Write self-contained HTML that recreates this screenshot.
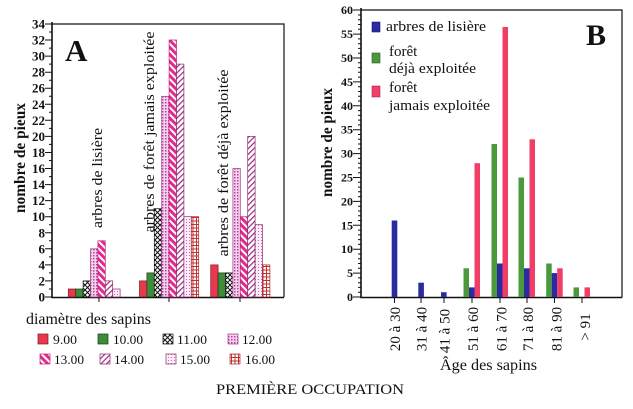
<!DOCTYPE html>
<html><head><meta charset="utf-8"><style>
html,body{margin:0;padding:0;background:#fff;}
svg{display:block;}
text{font-family:"Liberation Serif",serif;fill:#111;}
</style></head><body>
<svg width="633" height="409" viewBox="0 0 633 409" xmlns="http://www.w3.org/2000/svg">
<defs>
<pattern id="p11" width="5" height="5" patternUnits="userSpaceOnUse"><rect width="5" height="5" fill="#fff"/><path d="M0,0L5,5M5,0L0,5" stroke="#111" stroke-width="1"/></pattern>
<pattern id="p12" width="3" height="3" patternUnits="userSpaceOnUse"><rect width="3" height="3" fill="#f3d2ec"/><rect width="1.5" height="1.5" fill="#b8409f"/></pattern>
<pattern id="p13" width="5" height="5" patternUnits="userSpaceOnUse" patternTransform="rotate(-45)"><rect width="5" height="5" fill="#fff"/><rect width="3" height="5" fill="#e22a8e"/></pattern>
<pattern id="p14" width="4" height="4" patternUnits="userSpaceOnUse" patternTransform="rotate(45)"><rect width="4" height="4" fill="#fff"/><rect width="1.2" height="4" fill="#9c2a7c"/></pattern>
<pattern id="p15" width="3" height="3" patternUnits="userSpaceOnUse"><rect width="3" height="3" fill="#fbeef8"/><rect width="1" height="1" fill="#cf62b4"/></pattern>
<pattern id="p16" width="3.5" height="3.5" patternUnits="userSpaceOnUse"><rect width="3.5" height="3.5" fill="#fff"/><path d="M0,0.5H3.5M0.5,0V3.5" stroke="#c4302c" stroke-width="1"/></pattern>
</defs>

<!-- ============ CHART A ============ -->
<g>
<!-- frame -->
<path d="M52,24H284V297" fill="none" stroke="#111" stroke-width="1.2"/>
<path d="M52,22V297.5H284" fill="none" stroke="#111" stroke-width="1.6"/>
<!-- y ticks -->
<g stroke="#111" stroke-width="1">
<path d="M45,297H52M45,280.9H52M45,264.9H52M45,248.8H52M45,232.8H52M45,216.7H52M45,200.6H52M45,184.6H52M45,168.5H52M45,152.5H52M45,136.4H52M45,120.3H52M45,104.3H52M45,88.2H52M45,72.2H52M45,56.1H52M45,40H52M45,24H52"/>
<path d="M49,289H52M49,272.9H52M49,256.9H52M49,240.8H52M49,224.7H52M49,208.7H52M49,192.6H52M49,176.6H52M49,160.5H52M49,144.4H52M49,128.4H52M49,112.3H52M49,96.3H52M49,80.2H52M49,64.1H52M49,48.1H52M49,32H52"/>
<path d="M99,297V302M169,297V302M240,297V302"/>
</g>
<g font-size="13" font-weight="bold" text-anchor="end">
<text x="45" y="301.5">0</text><text x="45" y="285.4">2</text><text x="45" y="269.4">4</text><text x="45" y="253.3">6</text><text x="45" y="237.3">8</text><text x="45" y="221.2">10</text><text x="45" y="205.1">12</text><text x="45" y="189.1">14</text><text x="45" y="173">16</text><text x="45" y="157">18</text><text x="45" y="140.9">20</text><text x="45" y="124.8">22</text><text x="45" y="108.8">24</text><text x="45" y="92.7">26</text><text x="45" y="76.7">28</text><text x="45" y="60.6">30</text><text x="45" y="44.5">32</text><text x="45" y="28.5">34</text>
</g>
<text x="65" y="61" font-size="31" font-weight="bold">A</text>
<text transform="translate(25,158) rotate(-90)" font-size="16" font-weight="bold" text-anchor="middle" textLength="110" lengthAdjust="spacingAndGlyphs">nombre de pieux</text>

<text transform="translate(102,178) rotate(-90)" font-size="15" text-anchor="middle" textLength="100" lengthAdjust="spacingAndGlyphs">arbres de lisière</text>
<text transform="translate(154,132) rotate(-90)" font-size="15" text-anchor="middle" textLength="201" lengthAdjust="spacingAndGlyphs">arbres de forêt jamais exploitée</text>
<text transform="translate(228,163) rotate(-90)" font-size="15" text-anchor="middle" textLength="187" lengthAdjust="spacingAndGlyphs">arbres de forêt déjà exploitée</text>

<!-- group 1 -->
<g stroke-width="0.7">
<rect x="68.3" y="289" width="7.4" height="8" fill="#e8384e" stroke="#7a1a22"/>
<rect x="75.7" y="289" width="7.4" height="8" fill="#3c8c3a" stroke="#1a3a1a"/>
<rect x="83.1" y="280.9" width="7.4" height="16.1" fill="url(#p11)" stroke="#111"/>
<rect x="90.5" y="248.8" width="7.4" height="48.2" fill="url(#p12)" stroke="#a03a8c"/>
<rect x="97.9" y="240.8" width="7.4" height="56.2" fill="url(#p13)" stroke="#c0207a"/>
<rect x="105.3" y="280.9" width="7.4" height="16.1" fill="url(#p14)" stroke="#8a2a70"/>
<rect x="112.7" y="289" width="7.4" height="8" fill="url(#p15)" stroke="#8a2a70"/>
</g>
<!-- group 2 -->
<g stroke-width="0.7">
<rect x="139.5" y="280.9" width="7.4" height="16.1" fill="#e8384e" stroke="#7a1a22"/>
<rect x="146.9" y="272.9" width="7.4" height="24.1" fill="#3c8c3a" stroke="#1a3a1a"/>
<rect x="154.3" y="208.7" width="7.4" height="88.3" fill="url(#p11)" stroke="#111"/>
<rect x="161.7" y="96.3" width="7.4" height="200.7" fill="url(#p12)" stroke="#a03a8c"/>
<rect x="169.1" y="40" width="7.4" height="257" fill="url(#p13)" stroke="#c0207a"/>
<rect x="176.5" y="64.1" width="7.4" height="232.9" fill="url(#p14)" stroke="#8a2a70"/>
<rect x="183.9" y="216.7" width="7.4" height="80.3" fill="url(#p15)" stroke="#8a2a70"/>
<rect x="191.3" y="216.7" width="7.4" height="80.3" fill="url(#p16)" stroke="#a02828"/>
</g>
<!-- group 3 -->
<g stroke-width="0.7">
<rect x="210.7" y="264.9" width="7.4" height="32.1" fill="#e8384e" stroke="#7a1a22"/>
<rect x="218.1" y="272.9" width="7.4" height="24.1" fill="#3c8c3a" stroke="#1a3a1a"/>
<rect x="225.5" y="272.9" width="7.4" height="24.1" fill="url(#p11)" stroke="#111"/>
<rect x="232.9" y="168.5" width="7.4" height="128.5" fill="url(#p12)" stroke="#a03a8c"/>
<rect x="240.3" y="216.7" width="7.4" height="80.3" fill="url(#p13)" stroke="#c0207a"/>
<rect x="247.7" y="136.4" width="7.4" height="160.6" fill="url(#p14)" stroke="#8a2a70"/>
<rect x="255.1" y="224.7" width="7.4" height="72.3" fill="url(#p15)" stroke="#8a2a70"/>
<rect x="262.5" y="264.9" width="7.4" height="32.1" fill="url(#p16)" stroke="#a02828"/>
</g>

<!-- legend A -->
<text x="26" y="324" font-size="16" textLength="125" lengthAdjust="spacingAndGlyphs">diamètre des sapins</text>
<g stroke-width="0.7">
<rect x="38" y="334" width="10" height="10" fill="#e8384e" stroke="#7a1a22"/>
<rect x="98" y="334" width="10" height="10" fill="#3c8c3a" stroke="#1a3a1a"/>
<rect x="163" y="334" width="10" height="10" fill="url(#p11)" stroke="#111"/>
<rect x="228" y="334" width="10" height="10" fill="url(#p12)" stroke="#a03a8c"/>
<rect x="40" y="354" width="10" height="10" fill="url(#p13)" stroke="#c0207a"/>
<rect x="100" y="354" width="10" height="10" fill="url(#p14)" stroke="#8a2a70"/>
<rect x="166" y="354" width="10" height="10" fill="url(#p15)" stroke="#8a2a70"/>
<rect x="230" y="354" width="10" height="10" fill="url(#p16)" stroke="#a02828"/>
</g>
<g font-size="13">
<text x="53" y="344" textLength="24" lengthAdjust="spacingAndGlyphs">9.00</text>
<text x="113" y="344" textLength="30" lengthAdjust="spacingAndGlyphs">10.00</text>
<text x="177" y="344" textLength="30" lengthAdjust="spacingAndGlyphs">11.00</text>
<text x="242" y="344" textLength="30" lengthAdjust="spacingAndGlyphs">12.00</text>
<text x="54" y="364" textLength="30" lengthAdjust="spacingAndGlyphs">13.00</text>
<text x="114" y="364" textLength="30" lengthAdjust="spacingAndGlyphs">14.00</text>
<text x="180" y="364" textLength="30" lengthAdjust="spacingAndGlyphs">15.00</text>
<text x="245" y="364" textLength="30" lengthAdjust="spacingAndGlyphs">16.00</text>
</g>
</g>

<text x="216" y="394" font-size="15" textLength="188" lengthAdjust="spacingAndGlyphs">PREMIÈRE OCCUPATION</text>

<!-- ============ CHART B ============ -->
<g>
<path d="M361,10H622V297.5" fill="none" stroke="#111" stroke-width="1.2"/>
<path d="M361,8V297.5H622" fill="none" stroke="#111" stroke-width="1.6"/>
<g stroke="#111" stroke-width="1">
<path d="M353,297H361M353,273.1H361M353,249.2H361M353,225.3H361M353,201.4H361M353,177.5H361M353,153.6H361M353,129.7H361M353,105.8H361M353,81.9H361M353,58H361M353,34.1H361M353,10H361"/>
<path d="M358,292.2H361M358,287.4H361M358,282.7H361M358,277.9H361M358,268.3H361M358,263.5H361M358,258.8H361M358,254H361M358,244.4H361M358,239.6H361M358,234.9H361M358,230.1H361M358,220.5H361M358,215.7H361M358,211H361M358,206.2H361M358,196.6H361M358,191.8H361M358,187.1H361M358,182.3H361M358,172.7H361M358,167.9H361M358,163.2H361M358,158.4H361M358,148.8H361M358,144H361M358,139.3H361M358,134.5H361M358,124.9H361M358,120.1H361M358,115.4H361M358,110.6H361M358,101H361M358,96.2H361M358,91.5H361M358,86.7H361M358,77.1H361M358,72.3H361M358,67.6H361M358,62.8H361M358,53.2H361M358,48.4H361M358,43.7H361M358,38.9H361M358,29.3H361M358,24.5H361M358,19.8H361M358,15H361"/>
<path d="M394.5,297.5V303M421,297.5V303M444,297.5V303M472,297.5V303M500,297.5V303M527,297.5V303M554.5,297.5V303M582,297.5V303"/>
</g>
<g font-size="12" font-weight="bold" text-anchor="end">
<text x="353" y="301">0</text><text x="353" y="277.1">5</text><text x="353" y="253.2">10</text><text x="353" y="229.3">15</text><text x="353" y="205.4">20</text><text x="353" y="181.5">25</text><text x="353" y="157.6">30</text><text x="353" y="133.7">35</text><text x="353" y="109.8">40</text><text x="353" y="85.9">45</text><text x="353" y="62">50</text><text x="353" y="38.1">55</text><text x="353" y="14">60</text>
</g>
<text transform="translate(332,142.5) rotate(-90)" font-size="16" font-weight="bold" text-anchor="middle" textLength="109" lengthAdjust="spacingAndGlyphs">nombre de pieux</text>
<text x="586" y="45" font-size="30" font-weight="bold">B</text>

<!-- bars B -->
<g>
<!-- g0 -->
<rect x="391.7" y="220.5" width="5.6" height="76.5" fill="#2a2aa2"/>
<!-- g1 -->
<rect x="418.3" y="282.7" width="5.6" height="14.3" fill="#2a2aa2"/>
<!-- g2 -->
<rect x="441" y="292.2" width="5.6" height="4.8" fill="#2a2aa2"/>
<!-- g3 -->
<rect x="463.5" y="268.3" width="5.5" height="28.7" fill="#4a9a3c"/>
<rect x="469" y="287.4" width="5.5" height="9.6" fill="#2a2aa2"/>
<rect x="474.5" y="163.2" width="5.5" height="133.8" fill="#f03e66"/>
<!-- g4 -->
<rect x="491.5" y="144" width="5.5" height="153" fill="#4a9a3c"/>
<rect x="497" y="263.5" width="5.5" height="33.5" fill="#2a2aa2"/>
<rect x="502.5" y="27" width="5.5" height="270" fill="#f03e66"/>
<!-- g5 -->
<rect x="518.5" y="177.5" width="5.5" height="119.5" fill="#4a9a3c"/>
<rect x="524" y="268.3" width="5.5" height="28.7" fill="#2a2aa2"/>
<rect x="529.5" y="139.3" width="5.5" height="157.7" fill="#f03e66"/>
<!-- g6 -->
<rect x="546.2" y="263.5" width="5.5" height="33.5" fill="#4a9a3c"/>
<rect x="551.7" y="273.1" width="5.5" height="23.9" fill="#2a2aa2"/>
<rect x="557.2" y="268.3" width="5.5" height="28.7" fill="#f03e66"/>
<!-- g7 -->
<rect x="573.5" y="287.4" width="5.5" height="9.6" fill="#4a9a3c"/>
<rect x="584.5" y="287.4" width="5.5" height="9.6" fill="#f03e66"/>
</g>

<!-- x labels B -->
<g font-size="15" text-anchor="middle">
<text transform="translate(400,329) rotate(-90)">20 à 30</text>
<text transform="translate(426.5,329) rotate(-90)">31 à 40</text>
<text transform="translate(449.5,331) rotate(-90)">41 à 50</text>
<text transform="translate(478,329) rotate(-90)">51 à 60</text>
<text transform="translate(506.5,329) rotate(-90)">61 à 70</text>
<text transform="translate(533,329) rotate(-90)">71 à 80</text>
<text transform="translate(561.5,329) rotate(-90)">81 à 90</text>
<text transform="translate(590,327) rotate(-90)">&gt; 91</text>
</g>
<text x="440" y="370" font-size="16" textLength="97" lengthAdjust="spacingAndGlyphs">Âge des sapins</text>

<!-- legend B -->
<rect x="372" y="22" width="8" height="10" fill="#2a2aa2" stroke="#1a1a70" stroke-width="0.6"/>
<rect x="372" y="53" width="8" height="10" fill="#4a9a3c" stroke="#2a5a22" stroke-width="0.6"/>
<rect x="372" y="86" width="8" height="11" fill="#f03e66" stroke="#b02a48" stroke-width="0.6"/>
<g font-size="15">
<text x="386" y="31" textLength="100" lengthAdjust="spacingAndGlyphs">arbres de lisière</text>
<text x="389" y="56">forêt</text>
<text x="389" y="73" textLength="87" lengthAdjust="spacingAndGlyphs">déjà exploitée</text>
<text x="389" y="92">forêt</text>
<text x="389" y="110" textLength="101" lengthAdjust="spacingAndGlyphs">jamais exploitée</text>
</g>
</g>
</svg>
</body></html>
